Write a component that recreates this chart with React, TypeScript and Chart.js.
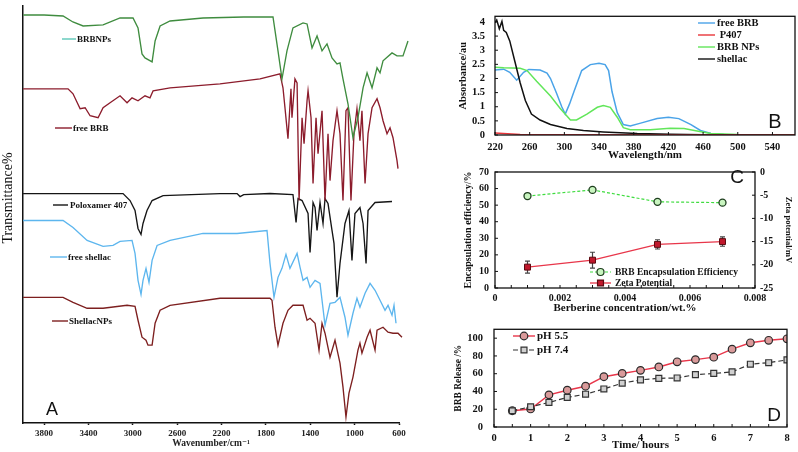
import React, { useEffect, useRef } from 'react';
import { Chart, registerables } from 'chart.js';

Chart.register(...registerables);

const SERIF = "'Liberation Serif', 'Times New Roman', 'DejaVu Serif', serif";
const SANS = "'Liberation Sans', Arial, 'DejaVu Sans', sans-serif";
Chart.defaults.font.family = SERIF;
Chart.defaults.color = '#111';

// ---------------- Panel A : FTIR spectra (wavenumber, relative transmittance) ----------------
const ftirTickValues = [600, 1000, 1400, 1800, 2200, 2600, 3000, 3400, 3800];

const brbNPsSpectrum: [number, number][] = [
  [3987, 409], [3800, 409], [3629, 408], [3540, 402], [3448, 398], [3268, 399], [3115, 406], [2998, 406],
  [2953, 396], [2917, 370], [2890, 366], [2826, 362], [2799, 383], [2754, 398], [2664, 403], [2367, 406],
  [2000, 407], [1763, 407], [1736, 407], [1691, 373], [1655, 345], [1610, 373], [1556, 396], [1465, 401],
  [1429, 400], [1384, 376], [1339, 388], [1294, 373], [1249, 380], [1204, 366], [1159, 360], [1132, 361],
  [1105, 345], [1060, 320], [1015, 286], [970, 306], [924, 336], [888, 351], [843, 336], [798, 356],
  [771, 351], [744, 363], [663, 371], [618, 368], [564, 368], [519, 383],
];

const freeBRBSpectrum: [number, number][] = [
  [3989, 335], [3584, 335], [3539, 330], [3475, 315], [3430, 316], [3385, 308], [3313, 306], [3268, 316],
  [3205, 321], [3115, 328], [3052, 321], [3007, 326], [2953, 323], [2890, 328], [2845, 326], [2817, 333],
  [2664, 336], [2214, 340], [1853, 345], [1673, 350], [1646, 336], [1628, 316], [1601, 285], [1574, 335],
  [1565, 306], [1538, 345], [1519, 341], [1501, 223], [1474, 306], [1456, 280], [1429, 323], [1420, 333],
  [1393, 306], [1375, 240], [1348, 306], [1330, 270], [1294, 313], [1267, 223], [1240, 290], [1222, 243],
  [1195, 283], [1159, 313], [1132, 290], [1105, 223], [1078, 313], [1060, 316], [1033, 223], [1006, 290],
  [979, 315], [952, 283], [934, 313], [906, 240], [879, 290], [843, 316], [798, 325], [771, 316],
  [744, 303], [708, 290], [681, 296], [654, 286], [618, 263], [609, 255],
];

const poloxamerSpectrum: [number, number][] = [
  [3989, 230], [3088, 230], [3025, 223], [2980, 213], [2953, 195], [2926, 189], [2908, 200], [2872, 213],
  [2826, 223], [2727, 228], [2214, 230], [2060, 230], [2033, 227], [2000, 229], [1763, 230], [1556, 229],
  [1528, 201], [1510, 225], [1474, 223], [1420, 210], [1402, 171], [1375, 221], [1357, 216], [1339, 193],
  [1312, 221], [1285, 200], [1267, 225], [1240, 220], [1204, 193], [1186, 180], [1159, 126], [1132, 160],
  [1087, 200], [1051, 213], [1024, 163], [997, 210], [952, 216], [924, 200], [897, 160], [879, 213],
  [816, 221], [663, 222],
];

const freeShellacSpectrum: [number, number][] = [
  [3989, 203], [3629, 203], [3539, 196], [3412, 183], [3268, 177], [3178, 178], [3115, 182], [3007, 183],
  [2980, 170], [2953, 143], [2926, 129], [2908, 143], [2881, 155], [2854, 141], [2826, 163], [2781, 178],
  [2664, 183], [2367, 190], [2060, 190], [1790, 193], [1763, 160], [1727, 126], [1691, 146], [1655, 155],
  [1619, 169], [1583, 155], [1519, 170], [1492, 156], [1465, 143], [1429, 146], [1402, 136], [1357, 143],
  [1312, 140], [1267, 98], [1222, 120], [1177, 121], [1132, 126], [1087, 106], [1060, 88], [1015, 110],
  [979, 125], [952, 116], [906, 130], [861, 140], [816, 133], [771, 123], [726, 113], [699, 118],
  [663, 108], [645, 118], [627, 100],
];

const shellacNPsSpectrum: [number, number][] = [
  [3989, 126], [3629, 126], [3539, 121], [3412, 115], [3268, 115], [3052, 118], [2980, 117], [2953, 103],
  [2917, 86], [2881, 83], [2863, 78], [2826, 78], [2799, 100], [2754, 113], [2664, 118], [2214, 125],
  [1763, 125], [1745, 123], [1718, 96], [1691, 78], [1646, 100], [1601, 113], [1556, 118], [1465, 118],
  [1429, 103], [1402, 105], [1357, 100], [1321, 73], [1294, 100], [1267, 90], [1222, 66], [1177, 83],
  [1132, 60], [1105, 36], [1078, 6], [1051, 30], [1015, 46], [970, 73], [952, 80], [934, 70],
  [888, 86], [861, 93], [816, 73], [798, 93], [744, 96], [699, 91], [654, 90], [609, 90], [573, 86],
];

// ---------------- Panel B : UV-Vis absorbance (wavelength nm, absorbance) ----------------
const uvTickX = [220, 260, 300, 340, 380, 420, 460, 500, 540];
const uvTickY = [0, 0.5, 1, 1.5, 2, 2.5, 3, 3.5, 4];

const uvFreeBRB: [number, number][] = [
  [220, 2.3], [230, 2.33], [237, 2.22], [245, 1.94], [253, 2.22], [259, 2.32], [272, 2.3], [280, 2.19],
  [284, 2.0], [291, 1.48], [297, 1.0], [301, 0.74], [306, 1.1], [311, 1.53], [320, 2.28], [330, 2.49],
  [340, 2.54], [347, 2.49], [351, 2.28], [355, 1.53], [361, 0.79], [368, 0.37], [376, 0.32], [388, 0.42],
  [407, 0.58], [420, 0.63], [432, 0.58], [446, 0.37], [457, 0.16], [469, 0.05], [484, 0.02], [566, 0.01],
];
const uvP407: [number, number][] = [[220, 0.07], [249, 0.02], [288, 0.01], [566, 0]];
const uvBRBNPs: [number, number][] = [
  [220, 2.4], [230, 2.38], [249, 2.36], [257, 2.28], [268, 1.9], [284, 1.38], [295, 0.95], [307, 0.53],
  [314, 0.53], [326, 0.74], [338, 0.98], [345, 1.04], [353, 0.98], [361, 0.63], [368, 0.26], [376, 0.19],
  [399, 0.19], [422, 0.24], [438, 0.23], [453, 0.14], [469, 0.05], [500, 0.02], [566, 0.01],
];
const uvShellac: [number, number][] = [
  [220, 3.97], [222, 4.07], [225, 3.76], [228, 4.02], [230, 3.7], [233, 3.63], [237, 3.33], [243, 2.59],
  [249, 1.85], [255, 1.22], [262, 0.74], [272, 0.53], [284, 0.37], [303, 0.23], [322, 0.16], [345, 0.11],
  [384, 0.05], [422, 0.03], [461, 0.01], [566, 0],
];

// ---------------- Panel C : encapsulation efficiency & zeta potential ----------------
const concTicks = [0, 0.002, 0.004, 0.006, 0.008];
const eeTicks = [0, 10, 20, 30, 40, 50, 60, 70];
const zetaTicks = [-25, -20, -15, -10, -5, 0];
const berberineConc = [0.001, 0.003, 0.005, 0.007];
const encapsulationEff = [55.5, 59.2, 52.0, 51.5];
const zetaPotential = [-20.5, -19.0, -15.6, -15.0];
const zetaError = [1.3, 1.7, 1.0, 1.0];

// ---------------- Panel D : release profile ----------------
const timeTicks = [0, 1, 2, 3, 4, 5, 6, 7, 8];
const releaseTicks = [0, 20, 40, 60, 80, 100];
const releaseTime = [0.5, 1, 1.5, 2, 2.5, 3, 3.5, 4, 4.5, 5, 5.5, 6, 6.5, 7, 7.5, 8];
const releasePH55 = [18.3, 20.3, 36.2, 41.4, 45.9, 56.6, 60.3, 63.8, 67.6, 73.4, 75.9, 78.6, 87.6, 94.8, 97.6, 99.3];
const releasePH74 = [18.3, 22.8, 27.6, 33.4, 36.9, 42.8, 49.3, 53.1, 54.8, 55.2, 59.0, 60.3, 62.1, 70.7, 72.4, 75.5];

// ---------------- helpers ----------------
const toXY = (arr: [number, number][]) => arr.map(([x, y]) => ({ x, y }));
const zipXY = (xs: number[], ys: number[]) => xs.map((x, i) => ({ x, y: ys[i] }));
const setTicks = (vals: number[]) => (s: any) => {
  s.ticks = vals.map((v) => ({ value: v }));
};

function textPlugin(id: string, items: any[]) {
  return {
    id,
    afterDraw(chart: any) {
      const ctx = chart.ctx;
      for (const t of items) {
        ctx.save();
        ctx.translate(t.x, t.y);
        if (t.rotate) ctx.rotate(t.rotate);
        ctx.font = t.font;
        ctx.fillStyle = t.color || '#111';
        ctx.textAlign = t.align || 'left';
        ctx.textBaseline = 'middle';
        ctx.fillText(t.text, 0, 0);
        ctx.restore();
      }
    },
  };
}

function legendPlugin(id: string, items: any[]) {
  return {
    id,
    afterDraw(chart: any) {
      const ctx = chart.ctx;
      for (const it of items) {
        ctx.save();
        ctx.strokeStyle = it.color;
        ctx.lineWidth = it.lineWidth ?? 1.4;
        ctx.setLineDash(it.dash || []);
        ctx.beginPath();
        ctx.moveTo(it.x1, it.y);
        ctx.lineTo(it.x2, it.y);
        ctx.stroke();
        ctx.setLineDash([]);
        if (it.marker) {
          const cx = (it.x1 + it.x2) / 2;
          const r = it.markerSize ?? 3.5;
          ctx.fillStyle = it.markerFill;
          ctx.strokeStyle = it.markerStroke;
          ctx.lineWidth = 1.2;
          ctx.beginPath();
          if (it.marker === 'circle') ctx.arc(cx, it.y, r, 0, Math.PI * 2);
          else {
            const h = r * Math.SQRT1_2;
            ctx.rect(cx - h, it.y - h, 2 * h, 2 * h);
          }
          ctx.fill();
          ctx.stroke();
        }
        ctx.font = it.font;
        ctx.fillStyle = '#111';
        ctx.textAlign = 'left';
        ctx.textBaseline = 'middle';
        ctx.fillText(it.text, it.textX, it.y + 0.5);
        ctx.restore();
      }
    },
  };
}

function framePlugin(id: string) {
  return {
    id,
    afterDatasetsDraw(chart: any) {
      const { ctx, chartArea: a } = chart;
      ctx.save();
      ctx.strokeStyle = '#111';
      ctx.lineWidth = 1.3;
      ctx.strokeRect(a.left, a.top, a.right - a.left, a.bottom - a.top);
      ctx.restore();
    },
  };
}

function innerTicksPlugin(id: string, specs: any[]) {
  return {
    id,
    afterDatasetsDraw(chart: any) {
      const { ctx, chartArea: a } = chart;
      ctx.save();
      ctx.strokeStyle = '#111';
      ctx.lineWidth = 1;
      for (const s of specs) {
        const scale = chart.scales[s.scale];
        const n = Math.round((s.to - s.from) / s.step);
        for (let i = 0; i <= n; i++) {
          const p = scale.getPixelForValue(s.from + i * s.step);
          ctx.beginPath();
          if (s.side === 'bottom') {
            ctx.moveTo(p, a.bottom);
            ctx.lineTo(p, a.bottom - s.len);
          } else if (s.side === 'left') {
            ctx.moveTo(a.left, p);
            ctx.lineTo(a.left + s.len, p);
          } else {
            ctx.moveTo(a.right, p);
            ctx.lineTo(a.right - s.len, p);
          }
          ctx.stroke();
        }
      }
      ctx.restore();
    },
  };
}

function errorBarPlugin(id: string, datasetIndex: number, errors: number[], color: string) {
  return {
    id,
    beforeDatasetsDraw(chart: any) {
      const meta = chart.getDatasetMeta(datasetIndex);
      const yScale = chart.scales[meta.yAxisID];
      const ds = chart.data.datasets[datasetIndex];
      const ctx = chart.ctx;
      ctx.save();
      ctx.strokeStyle = color;
      ctx.lineWidth = 1.2;
      meta.data.forEach((pt: any, i: number) => {
        const v = ds.data[i].y;
        const e = errors[i];
        const top = yScale.getPixelForValue(v + e);
        const bot = yScale.getPixelForValue(v - e);
        ctx.beginPath();
        ctx.moveTo(pt.x, top);
        ctx.lineTo(pt.x, bot);
        ctx.moveTo(pt.x - 2.5, top);
        ctx.lineTo(pt.x + 2.5, top);
        ctx.moveTo(pt.x - 2.5, bot);
        ctx.lineTo(pt.x + 2.5, bot);
        ctx.stroke();
      });
      ctx.restore();
    },
  };
}

const baseOptions = {
  responsive: false,
  animation: false,
  events: [],
};
const noLegend = { legend: { display: false }, tooltip: { enabled: false } };

// ---------------- chart builders ----------------
function buildFTIR() {
  const mk = (d: [number, number][], color: string) => ({
    data: toXY(d),
    borderColor: color,
    borderWidth: 1.35,
    pointRadius: 0,
    fill: false,
    tension: 0,
    clip: false,
  });
  const lf = `bold 9px ${SERIF}`;
  return {
    type: 'line',
    data: {
      datasets: [
        mk(brbNPsSpectrum, '#3f8c3f'),
        mk(freeBRBSpectrum, '#8c1c2c'),
        mk(poloxamerSpectrum, '#151515'),
        mk(freeShellacSpectrum, '#5db6ee'),
        mk(shellacNPsSpectrum, '#7d1f1f'),
      ],
    },
    options: {
      ...baseOptions,
      layout: { padding: { left: 0, right: 21, top: 6, bottom: 0 } },
      plugins: noLegend,
      scales: {
        x: {
          type: 'linear',
          reverse: true,
          min: 600,
          max: 3990,
          afterBuildTicks: setTicks(ftirTickValues),
          afterFit: (s: any) => {
            s.height = 29;
          },
          ticks: {
            font: { size: 9, weight: 'bold' },
            color: '#222',
            padding: 3,
            maxRotation: 0,
            autoSkip: false,
            callback: (v: any) => String(v),
          },
          grid: { display: true, drawOnChartArea: false, drawTicks: true, tickLength: 2, tickWidth: 1.5, tickColor: '#111' },
          border: { display: true, color: '#111', width: 1.5 },
          title: {
            display: true,
            text: 'Wavenumber/cm⁻¹',
            font: { size: 9.5, weight: 'bold' },
            color: '#222',
            padding: { top: 0, bottom: 3 },
          },
        },
        y: {
          type: 'linear',
          min: 0,
          max: 418,
          afterFit: (s: any) => {
            s.width = 23;
          },
          ticks: { display: false },
          grid: { display: false, drawTicks: false },
          border: { display: true, color: '#111', width: 1.5 },
        },
      },
    },
    plugins: [
      legendPlugin('ftirLegend', [
        { x1: 62, x2: 76, y: 39, color: '#5cc8b8', text: 'BRBNPs', textX: 77, font: lf },
        { x1: 55, x2: 72, y: 128, color: '#8c1c2c', text: 'free BRB', textX: 73, font: lf },
        { x1: 53, x2: 68, y: 205, color: '#151515', text: 'Poloxamer 407', textX: 70, font: lf },
        { x1: 50, x2: 67, y: 257, color: '#5db6ee', text: 'free shellac', textX: 68, font: lf },
        { x1: 52, x2: 68, y: 321, color: '#7d1f1f', text: 'ShellacNPs', textX: 69, font: lf },
      ]),
      textPlugin('ftirTexts', [
        { text: 'Transmittance%', x: 8, y: 198, rotate: -Math.PI / 2, align: 'center', font: `14px ${SERIF}` },
        { text: 'A', x: 52, y: 410, align: 'center', font: `18px ${SANS}` },
      ]),
    ],
  };
}

function buildUV() {
  const mk = (d: [number, number][], color: string) => ({
    data: toXY(d),
    borderColor: color,
    borderWidth: 1.5,
    pointRadius: 0,
    fill: false,
    tension: 0,
  });
  const lf = `bold 10.5px ${SERIF}`;
  return {
    type: 'line',
    data: {
      datasets: [
        mk(uvP407, '#e8353a'),
        mk(uvShellac, '#111111'),
        mk(uvBRBNPs, '#62e65a'),
        mk(uvFreeBRB, '#4aa3e8'),
      ],
    },
    options: {
      ...baseOptions,
      layout: { padding: { left: 0, right: 3, top: 3, bottom: 0 } },
      plugins: noLegend,
      scales: {
        x: {
          type: 'linear',
          min: 220,
          max: 566,
          afterBuildTicks: setTicks(uvTickX),
          afterFit: (s: any) => {
            s.height = 27;
          },
          ticks: { font: { size: 10.5, weight: 'bold' }, padding: 6, maxRotation: 0, autoSkip: false, callback: (v: any) => String(v) },
          grid: { display: false, drawTicks: false },
          border: { display: false },
          title: { display: true, text: 'Wavelength/nm', font: { size: 11, weight: 'bold' }, padding: { top: 0, bottom: 0 } },
        },
        y: {
          type: 'linear',
          min: 0,
          max: 4.2,
          afterBuildTicks: setTicks(uvTickY),
          afterFit: (s: any) => {
            s.width = 55;
          },
          ticks: { font: { size: 10.5, weight: 'bold' }, padding: 10, autoSkip: false, callback: (v: any) => String(v) },
          grid: { display: false, drawTicks: false },
          border: { display: false },
          title: { display: true, text: 'Absorbance/au', font: { size: 10.5, weight: 'bold' }, padding: { top: 17, bottom: 0 } },
        },
      },
    },
    plugins: [
      framePlugin('uvFrame'),
      innerTicksPlugin('uvTicks', [
        { scale: 'x', side: 'bottom', from: 220, to: 540, step: 40, len: 3 },
        { scale: 'y', side: 'left', from: 0, to: 4, step: 0.5, len: 3 },
      ]),
      legendPlugin('uvLegend', [
        { x1: 258, x2: 275, y: 23, color: '#4aa3e8', text: 'free BRB', textX: 277, font: lf },
        { x1: 258, x2: 275, y: 35, color: '#e8353a', text: ' P407', textX: 277, font: lf },
        { x1: 258, x2: 275, y: 47, color: '#62e65a', text: 'BRB NPs', textX: 277, font: lf },
        { x1: 258, x2: 275, y: 59, color: '#111111', text: 'shellac', textX: 277, font: lf },
      ]),
      textPlugin('uvTexts', [{ text: 'B', x: 335, y: 122, align: 'center', font: `20px ${SANS}` }]),
    ],
  };
}

function buildEE() {
  const lf = `bold 9.5px ${SERIF}`;
  return {
    type: 'line',
    data: {
      datasets: [
        {
          data: zipXY(berberineConc, encapsulationEff),
          yAxisID: 'y',
          borderColor: '#3fdc3f',
          borderDash: [3, 2],
          borderWidth: 1.2,
          pointStyle: 'circle',
          pointRadius: 3.5,
          pointBackgroundColor: '#c9f5c0',
          pointBorderColor: '#1d3d1d',
          pointBorderWidth: 1.3,
          fill: false,
        },
        {
          data: zipXY(berberineConc, zetaPotential),
          yAxisID: 'y2',
          borderColor: '#e8364a',
          borderWidth: 1.3,
          pointStyle: 'rect',
          pointRadius: 4.2,
          pointBackgroundColor: '#c0182c',
          pointBorderColor: '#5a0a10',
          pointBorderWidth: 1,
          fill: false,
        },
      ],
    },
    options: {
      ...baseOptions,
      layout: { padding: { left: 0, right: 0, top: 7, bottom: 0 } },
      plugins: noLegend,
      scales: {
        x: {
          type: 'linear',
          min: 0,
          max: 0.008,
          afterBuildTicks: setTicks(concTicks),
          afterFit: (s: any) => {
            s.height = 32;
          },
          ticks: {
            font: { size: 10, weight: 'bold' },
            padding: 4,
            maxRotation: 0,
            autoSkip: false,
            callback: (v: any) => (Number(v) === 0 ? '0' : Number(v).toFixed(3)),
          },
          grid: { display: false, drawTicks: false },
          border: { display: false },
          title: { display: true, text: 'Berberine concentration/wt.%', font: { size: 11, weight: 'bold' }, padding: { top: 0, bottom: 5 } },
        },
        y: {
          type: 'linear',
          position: 'left',
          min: 0,
          max: 70,
          afterBuildTicks: setTicks(eeTicks),
          afterFit: (s: any) => {
            s.width = 55;
          },
          ticks: { font: { size: 10, weight: 'bold' }, padding: 6, autoSkip: false, callback: (v: any) => String(v) },
          grid: { display: false, drawTicks: false },
          border: { display: false },
          title: { display: true, text: 'Encapsulation efficiency/%', font: { size: 10, weight: 'bold' }, padding: { top: 22, bottom: 0 } },
        },
        y2: {
          type: 'linear',
          position: 'right',
          min: -25,
          max: 0,
          afterBuildTicks: setTicks(zetaTicks),
          afterFit: (s: any) => {
            s.width = 43;
          },
          ticks: { font: { size: 10, weight: 'bold' }, padding: 5, autoSkip: false, callback: (v: any) => String(v) },
          grid: { display: false, drawTicks: false },
          border: { display: false },
          title: { display: true, text: 'Zeta potential/mV', font: { size: 8.5, weight: 'bold' }, padding: { top: 5, bottom: 0 } },
        },
      },
    },
    plugins: [
      errorBarPlugin('zetaErr', 1, zetaError, '#444'),
      framePlugin('eeFrame'),
      innerTicksPlugin('eeTicks', [
        { scale: 'x', side: 'bottom', from: 0, to: 0.008, step: 0.0005, len: 3 },
        { scale: 'y', side: 'left', from: 0, to: 70, step: 10, len: 3 },
        { scale: 'y2', side: 'right', from: -25, to: 0, step: 5, len: 3 },
      ]),
      legendPlugin('eeLegend', [
        {
          x1: 150, x2: 171, y: 112, color: '#3fdc3f', dash: [3, 2], lineWidth: 1.2,
          marker: 'circle', markerFill: '#c9f5c0', markerStroke: '#1d3d1d', markerSize: 3.5,
          text: 'BRB Encapsulation Efficiency', textX: 175, font: lf,
        },
        {
          x1: 150, x2: 171, y: 123, color: '#e8364a', lineWidth: 1.3,
          marker: 'rect', markerFill: '#c0182c', markerStroke: '#5a0a10', markerSize: 4.2,
          text: 'Zeta Potential', textX: 175, font: lf,
        },
      ]),
      textPlugin('eeTexts', [{ text: 'C', x: 297, y: 18, align: 'center', font: `19px ${SANS}` }]),
    ],
  };
}

function buildRelease() {
  const lf = `bold 11px ${SERIF}`;
  return {
    type: 'line',
    data: {
      datasets: [
        {
          data: zipXY(releaseTime, releasePH74),
          borderColor: '#333333',
          borderDash: [5, 3],
          borderWidth: 1.2,
          pointStyle: 'rect',
          pointRadius: 4.2,
          pointBackgroundColor: '#d0d0d0',
          pointBorderColor: '#333333',
          pointBorderWidth: 1.2,
          fill: false,
        },
        {
          data: zipXY(releaseTime, releasePH55),
          borderColor: '#e8364a',
          borderWidth: 1.4,
          pointStyle: 'circle',
          pointRadius: 3.8,
          pointBackgroundColor: '#d99a9a',
          pointBorderColor: '#2a2a2a',
          pointBorderWidth: 1.2,
          fill: false,
        },
      ],
    },
    options: {
      ...baseOptions,
      layout: { padding: { left: 0, right: 11, top: 9, bottom: 0 } },
      plugins: noLegend,
      scales: {
        x: {
          type: 'linear',
          min: 0,
          max: 8,
          afterBuildTicks: setTicks(timeTicks),
          afterFit: (s: any) => {
            s.height = 25;
          },
          ticks: { font: { size: 10.5, weight: 'bold' }, padding: 5, maxRotation: 0, autoSkip: false, callback: (v: any) => String(v) },
          grid: { display: false, drawTicks: false },
          border: { display: false },
          title: { display: true, text: 'Time/ hours', font: { size: 11, weight: 'bold' }, padding: { top: 0, bottom: 0 } },
        },
        y: {
          type: 'linear',
          min: 0,
          max: 110,
          afterBuildTicks: setTicks(releaseTicks),
          afterFit: (s: any) => {
            s.width = 54;
          },
          ticks: { font: { size: 10.5, weight: 'bold' }, padding: 11, autoSkip: false, callback: (v: any) => String(v) },
          grid: { display: false, drawTicks: false },
          border: { display: false },
          title: { display: true, text: 'BRB Release /%', font: { size: 9.5, weight: 'bold' }, padding: { top: 13, bottom: 0 } },
        },
      },
    },
    plugins: [
      framePlugin('relFrame'),
      innerTicksPlugin('relTicks', [
        { scale: 'x', side: 'bottom', from: 0, to: 8, step: 0.5, len: 3 },
        { scale: 'y', side: 'left', from: 0, to: 100, step: 20, len: 3 },
      ]),
      legendPlugin('relLegend', [
        {
          x1: 73, x2: 95, y: 24, color: '#e8364a', lineWidth: 1.4,
          marker: 'circle', markerFill: '#d99a9a', markerStroke: '#2a2a2a', markerSize: 3.8,
          text: 'pH 5.5', textX: 97, font: lf,
        },
        {
          x1: 73, x2: 95, y: 38, color: '#333333', dash: [5, 3], lineWidth: 1.2,
          marker: 'rect', markerFill: '#d0d0d0', markerStroke: '#333333', markerSize: 4.2,
          text: 'pH 7.4', textX: 97, font: lf,
        },
      ]),
      textPlugin('relTexts', [{ text: 'D', x: 334, y: 104, align: 'center', font: `19px ${SANS}` }]),
    ],
  };
}

function ChartCanvas(props: { left: number; top: number; width: number; height: number; build: () => any }) {
  const { left, top, width, height, build } = props;
  const ref = useRef<HTMLCanvasElement | null>(null);
  useEffect(() => {
    if (!ref.current) return;
    const chart = new Chart(ref.current, build());
    return () => chart.destroy();
  }, []);
  return (
    <canvas
      ref={ref}
      width={width}
      height={height}
      style={{ position: 'absolute', left, top, width, height, display: 'block' }}
    />
  );
}

export default function App() {
  return (
    <div
      style={{
        position: 'absolute',
        left: 0,
        top: 0,
        width: 798,
        height: 452,
        background: '#ffffff',
        overflow: 'hidden',
      }}
    >
      <ChartCanvas left={0} top={0} width={420} height={452} build={buildFTIR} />
      <ChartCanvas left={440} top={0} width={358} height={162} build={buildUV} />
      <ChartCanvas left={440} top={160} width={358} height={160} build={buildEE} />
      <ChartCanvas left={440} top={312} width={358} height={140} build={buildRelease} />
    </div>
  );
}
